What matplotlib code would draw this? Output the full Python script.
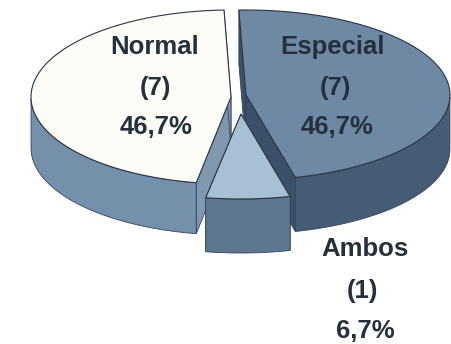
import numpy as np
import matplotlib
matplotlib.use("Agg")
import matplotlib.pyplot as plt
from matplotlib.patches import Polygon

labels = ["Especial", "Ambos", "Normal"]
values = [7, 1, 7]
counts = ["(7)", "(1)", "(7)"]
percents = ["46,7%", "6,7%", "46,7%"]

top_colors = ["#6f88a3", "#a9bfd4", "#fdfdf8"]
wall_colors = ["#465b74", "#5d7791", "#7490ab"]
cut_colors = ["#3c506a", "#5d7791", "#8097b0"]
centers = [(246, 95), (241, 114), (231, 97)]
radii = [(204, 85), (203, 85), (200, 87)]
depths = [54, 54, 51]
start_angle = 92


def rim(center, radius, a0, a1, n=80):
    t = np.radians(np.linspace(a0, a1, n))
    return np.column_stack([center[0] + radius[0] * np.cos(t), center[1] - radius[1] * np.sin(t)])


def draw_slice(ax, center, radius, a0, a1, depth, top, wall, cut):
    c = np.array(center, dtype=float)
    down = np.array([0, depth])
    edge = rim(center, radius, a0, a1)
    # cut faces first, then the outer wall, top last
    for p in (edge[0], edge[-1]):
        ax.add_patch(Polygon([c, p, p + down, c + down], fc=cut, ec="#33445a", lw=0.6))
    t = np.radians(np.linspace(a0, a1, 80))
    front = edge[np.sin(t) <= 0]
    if len(front):
        ax.add_patch(Polygon(np.vstack([front, (front + down)[::-1]]), fc=wall, ec="#33445a", lw=0.6))
    ax.add_patch(Polygon(np.vstack([c, edge]), fc=top, ec="#2a3442", lw=0.8))


fig = plt.figure(figsize=(4.51, 3.44), dpi=100, facecolor="white")
ax = fig.add_axes([0, 0, 1, 1])
ax.set_xlim(0, 451)
ax.set_ylim(344, 0)
ax.axis("off")

# angles from the data, clockwise from the top
fracs = np.array(values) / sum(values)
ends = start_angle - np.cumsum(fracs) * 360
starts = np.r_[start_angle, ends[:-1]]

for i in [2, 0, 1]:
    draw_slice(ax, centers[i], radii[i], starts[i], ends[i], depths[i], top_colors[i], wall_colors[i], cut_colors[i])

txt = dict(family="Liberation Sans", fontsize=18.5, fontweight="bold", ha="center", va="center", color="#26303c")
ax.text(155, 47, labels[2], **txt)
ax.text(155, 88, counts[2], **txt)
ax.text(156, 127, percents[2], **txt)
ax.text(332, 47, labels[0], **txt)
ax.text(335, 88, counts[0], **txt)
ax.text(337, 127, percents[0], **txt)
ax.text(365, 249, labels[1], **txt)
ax.text(362, 291, counts[1], **txt)
ax.text(365, 331, percents[1], **txt)

fig.savefig("out.png", dpi=100)
